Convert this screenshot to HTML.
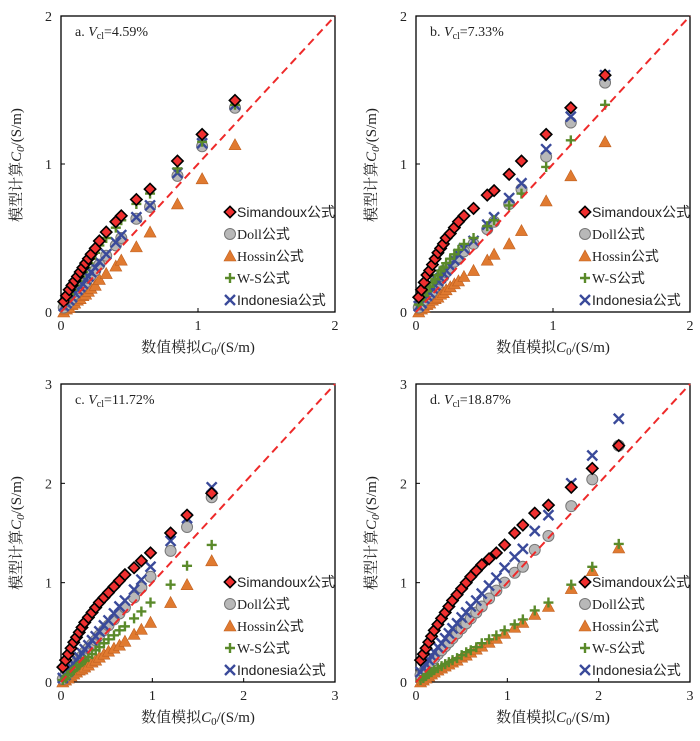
<!DOCTYPE html>
<html><head><meta charset="utf-8"><style>
body{margin:0;background:#fff;width:700px;height:736px;overflow:hidden}
svg text{font-family:"Liberation Serif","Noto Serif CJK SC",serif;fill:#222}
</style></head><body>
<svg id="chart" width="700" height="736" xmlns="http://www.w3.org/2000/svg"></svg>
<script>
const seriesNames=["Simandoux","Doll","Hossin","W-S","Indonesia"];
const panelLabels=["a.","b.","c.","d."];
const panelVcl=["4.59%","7.33%","11.72%","18.87%"];
const axisMax=[2,2,3,3];
const tickLabelsA=[0,1,2];
const tickLabelsC=[0,1,2,3];
// panel a
const xA=[0.02,0.04,0.06,0.08,0.1,0.12,0.14,0.16,0.18,0.2,0.22,0.25,0.28,0.33,0.4,0.44,0.55,0.65,0.85,1.03,1.27];
const simA=[0.07,0.11,0.15,0.18,0.21,0.24,0.27,0.3,0.33,0.36,0.39,0.43,0.48,0.54,0.61,0.65,0.76,0.83,1.02,1.2,1.43];
const dollA=[0.03,0.05,0.07,0.09,0.12,0.14,0.16,0.18,0.2,0.23,0.25,0.28,0.32,0.38,0.45,0.5,0.63,0.71,0.92,1.12,1.38];
const hosA=[0.0,0.02,0.03,0.05,0.06,0.08,0.09,0.11,0.12,0.14,0.16,0.18,0.22,0.26,0.31,0.35,0.44,0.54,0.73,0.9,1.13];
const wsA=[0.06,0.09,0.12,0.15,0.18,0.21,0.24,0.27,0.3,0.33,0.36,0.4,0.45,0.5,0.57,0.62,0.73,0.8,0.97,1.15,1.4];
const indA=[0.04,0.06,0.08,0.1,0.13,0.15,0.17,0.19,0.22,0.24,0.27,0.3,0.34,0.39,0.47,0.52,0.64,0.72,0.94,1.14,1.4];
// panel b
const xB=[0.02,0.04,0.06,0.08,0.1,0.12,0.14,0.16,0.18,0.2,0.22,0.25,0.28,0.31,0.35,0.42,0.52,0.57,0.68,0.77,0.95,1.13,1.38];
const simB=[0.1,0.15,0.2,0.25,0.28,0.32,0.36,0.4,0.43,0.46,0.5,0.53,0.57,0.61,0.65,0.7,0.79,0.82,0.93,1.02,1.2,1.38,1.6];
const dollB=[0.03,0.05,0.08,0.1,0.12,0.14,0.17,0.19,0.22,0.24,0.27,0.3,0.34,0.37,0.41,0.46,0.56,0.61,0.73,0.83,1.05,1.28,1.55];
const hosB=[0.0,0.02,0.03,0.05,0.06,0.08,0.09,0.1,0.12,0.13,0.15,0.17,0.19,0.21,0.24,0.28,0.35,0.39,0.46,0.55,0.75,0.92,1.15];
const wsB=[0.05,0.08,0.11,0.14,0.17,0.2,0.22,0.25,0.28,0.3,0.33,0.36,0.39,0.42,0.46,0.5,0.58,0.62,0.72,0.8,0.98,1.16,1.4];
const indB=[0.04,0.06,0.09,0.11,0.13,0.16,0.18,0.21,0.23,0.26,0.28,0.31,0.35,0.39,0.43,0.48,0.59,0.64,0.77,0.87,1.1,1.32,1.6];
// panel c
const xC=[0.02,0.05,0.08,0.11,0.14,0.17,0.2,0.23,0.26,0.3,0.34,0.38,0.42,0.47,0.52,0.58,0.64,0.7,0.8,0.88,0.98,1.2,1.38,1.65];
const simC=[0.15,0.22,0.28,0.34,0.4,0.45,0.5,0.55,0.6,0.65,0.7,0.75,0.8,0.85,0.9,0.96,1.02,1.08,1.15,1.22,1.3,1.5,1.68,1.9];
const dollC=[0.03,0.06,0.09,0.13,0.16,0.2,0.23,0.26,0.3,0.34,0.38,0.42,0.47,0.52,0.57,0.63,0.69,0.75,0.85,0.95,1.06,1.32,1.56,1.86];
const hosC=[0.0,0.02,0.04,0.06,0.08,0.1,0.12,0.13,0.15,0.17,0.2,0.22,0.25,0.28,0.31,0.34,0.37,0.41,0.48,0.53,0.6,0.8,0.98,1.22];
const wsC=[0.02,0.04,0.07,0.1,0.12,0.15,0.17,0.2,0.22,0.25,0.28,0.32,0.35,0.39,0.43,0.47,0.52,0.56,0.64,0.71,0.8,0.98,1.17,1.38];
const indC=[0.04,0.07,0.11,0.15,0.18,0.22,0.25,0.29,0.33,0.37,0.42,0.46,0.51,0.57,0.62,0.69,0.76,0.82,0.93,1.03,1.16,1.42,1.65,1.96];
// panel d
const xD=[0.05,0.08,0.11,0.14,0.17,0.2,0.24,0.28,0.32,0.36,0.4,0.45,0.5,0.55,0.6,0.66,0.72,0.8,0.88,0.97,1.08,1.17,1.3,1.45,1.7,1.93,2.22];
const simD=[0.22,0.28,0.34,0.4,0.46,0.52,0.58,0.64,0.7,0.76,0.82,0.88,0.94,1.0,1.06,1.12,1.18,1.24,1.3,1.38,1.5,1.58,1.7,1.78,1.96,2.15,2.38];
const dollD=[0.07,0.1,0.13,0.17,0.2,0.24,0.28,0.32,0.36,0.4,0.44,0.49,0.54,0.59,0.64,0.7,0.76,0.84,0.92,1.0,1.1,1.16,1.33,1.47,1.77,2.04,2.38];
const hosD=[0.0,0.02,0.04,0.06,0.08,0.1,0.12,0.14,0.16,0.18,0.2,0.22,0.25,0.27,0.3,0.33,0.36,0.4,0.44,0.49,0.55,0.6,0.68,0.76,0.94,1.12,1.35];
const wsD=[0.02,0.04,0.06,0.08,0.1,0.12,0.14,0.16,0.18,0.2,0.22,0.24,0.27,0.3,0.32,0.35,0.39,0.43,0.47,0.52,0.58,0.63,0.72,0.8,0.98,1.16,1.39];
const indD=[0.1,0.14,0.18,0.22,0.26,0.3,0.35,0.39,0.44,0.49,0.54,0.59,0.65,0.7,0.76,0.82,0.89,0.97,1.05,1.15,1.26,1.34,1.52,1.68,2.0,2.28,2.65];

const panels=[
 {x:xA,ys:[hosA,dollA,indA,wsA,simA],box:[61,16,335,312],ticks:tickLabelsA,xt:352,yt:165},
 {x:xB,ys:[hosB,dollB,indB,wsB,simB],box:[416,16,690,312],ticks:tickLabelsA,xt:352,yt:165},
 {x:xC,ys:[hosC,dollC,indC,wsC,simC],box:[61,384,335,682],ticks:tickLabelsC,xt:722,yt:533},
 {x:xD,ys:[hosD,dollD,indD,wsD,simD],box:[416,384,690,682],ticks:tickLabelsC,xt:722,yt:533}
];
const order=["Hossin","Doll","Indonesia","W-S","Simandoux"];
const NS="http://www.w3.org/2000/svg";
const svg=document.getElementById('chart');
function mk(tag,attrs,parent,text){const e=document.createElementNS(NS,tag);for(const k in attrs)e.setAttribute(k,attrs[k]);if(text!==undefined)e.textContent=text;(parent||svg).appendChild(e);return e;}
function marker(g,name,cx,cy){
 let e;
 if(name==="Simandoux"){e=mk('rect',{x:cx-4,y:cy-4,width:8,height:8,fill:'#f03030',stroke:'#000','stroke-width':1.6,transform:`rotate(45 ${cx} ${cy})`},g);}
 else if(name==="Doll"){e=mk('circle',{cx:cx,cy:cy,r:5.5,fill:'#b8b8b8',stroke:'#777','stroke-width':1},g);}
 else if(name==="Hossin"){e=mk('path',{d:`M${cx} ${cy-6}L${cx+6} ${cy+5}L${cx-6} ${cy+5}Z`,fill:'#e07a30',stroke:'#c06020','stroke-width':0.6},g);}
 else if(name==="W-S"){e=mk('path',{d:`M${cx-5} ${cy}H${cx+5}M${cx} ${cy-5}V${cy+5}`,stroke:'#5a8a2a','stroke-width':2.4,fill:'none'},g);}
 else {e=mk('path',{d:`M${cx-5} ${cy-5}L${cx+5} ${cy+5}M${cx+5} ${cy-5}L${cx-5} ${cy+5}`,stroke:'#3a4a9a','stroke-width':2.4,fill:'none'},g);}
 
 
 return e;
}
const legSans={"Simandoux":true,"Indonesia":true};
panels.forEach((p,i)=>{
 const [L,T,R,B]=p.box,max=axisMax[i];
 const sx=v=>L+(R-L)*v/max, sy=v=>B-(B-T)*v/max;
 const g=mk('g',{});
 
 
 const frame=mk('rect',{x:L,y:T,width:R-L,height:B-T,fill:'none',stroke:'#000','stroke-width':1.3},g);
 
 
 p.ticks.forEach(t=>{
  mk('line',{x1:sx(t),x2:sx(t),y1:B,y2:B-4,stroke:'#000'},g);
  mk('line',{x1:L,x2:L+4,y1:sy(t),y2:sy(t),stroke:'#000'},g);
  const xl=mk('text',{x:sx(t),y:B+18,'text-anchor':'middle','font-size':14},g,t);
  
  
  const yl=mk('text',{x:L-9,y:sy(t)+5,'text-anchor':'end','font-size':14},g,t);
  
  
 });
 order.forEach(name=>{
  const ys=p.ys[order.indexOf(name)];
  p.x.forEach((xv,j)=>marker(g,name,sx(xv),sy(ys[j])));
 });
 const diag=mk('line',{x1:sx(0),y1:sy(0),x2:sx(max),y2:sy(max),stroke:'#ee2a2a','stroke-width':2,'stroke-dasharray':'8,5'},g);
 
 
 const lab=mk('text',{x:L+14,y:T+20,'font-size':14},g);
 
 
 lab.innerHTML=`${panelLabels[i]} <tspan font-style="italic">V</tspan><tspan font-size="10" dy="3">cl</tspan><tspan dy="-3">=${panelVcl[i]}</tspan>`;
 seriesNames.forEach((n,k)=>{
  const ly=B-100+k*22;
  const lg=mk('g',{},g);
  
  
  marker(lg,n,L+169,ly);
  const st=legSans[n]?'font-family:"Liberation Sans","Noto Sans CJK SC",sans-serif':'font-family:"Liberation Serif","Noto Sans CJK SC",serif';
  mk('text',{x:L+176,y:ly+5,'font-size':14,style:st},lg,n+'公式');
 });
 const xt=mk('text',{x:(L+R)/2,y:p.xt,'text-anchor':'middle','font-size':15},g);
 
 
 xt.innerHTML='数值模拟<tspan font-style="italic">C</tspan><tspan font-size="11" dy="3">0</tspan><tspan dy="-3">/(S/m)</tspan>';
 const ytx=L-40;
 const yt=mk('text',{x:ytx,y:p.yt,'text-anchor':'middle','font-size':15,transform:`rotate(-90 ${ytx} ${p.yt})`},g);
 
 
 yt.innerHTML='模型计算<tspan font-style="italic">C</tspan><tspan font-size="11" font-style="italic" dy="3">0</tspan><tspan dy="-3">/(S/m)</tspan>';
});
</script>
</body></html>
